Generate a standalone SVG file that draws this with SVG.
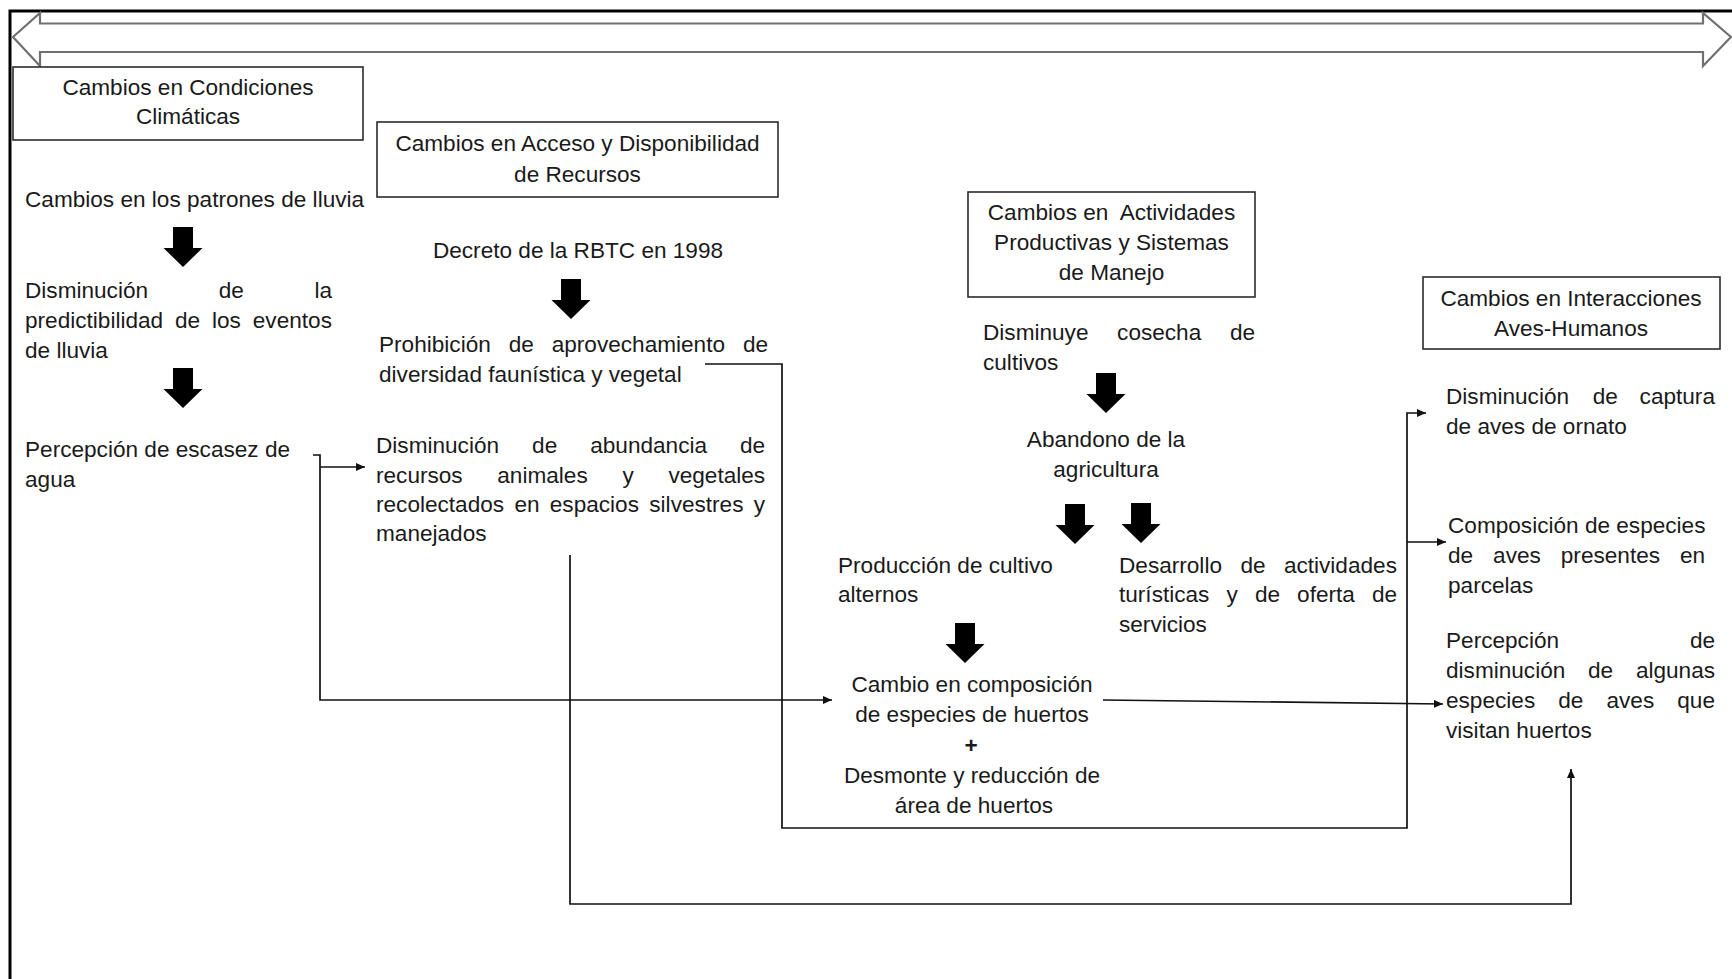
<svg xmlns="http://www.w3.org/2000/svg" xmlns:xlink="http://www.w3.org/1999/xlink" width="1732" height="979" viewBox="0 0 1732 979">
  <style>
    text { font-family: "Liberation Sans", Arial, sans-serif; font-size: 22.6px; fill: #1a1a1a; white-space: pre; }
    .c { text-anchor: middle; }
    .box { fill: #ffffff; stroke: #2b2b2b; stroke-width: 1.6; }
    .frame { fill: none; stroke: #000000; stroke-width: 3; }
    .timeline { fill: #ffffff; stroke: #707070; stroke-width: 2.2; stroke-linejoin: miter; }
    .link { fill: none; stroke: #111111; stroke-width: 1.7; }
    .block { fill: #000000; }
  </style>
  <defs>
    <!-- thick block arrow pointing down, origin at top centre of the shaft -->
    <path id="down" d="M-10,0 H10 V21 H19.5 L0,40 L-19.5,21 H-10 Z"/>
    <marker id="tip" markerUnits="userSpaceOnUse" markerWidth="9" markerHeight="8" refX="9" refY="4" orient="auto">
      <path d="M0,0 L9,4 L0,8 Z" fill="#111111"/>
    </marker>
  </defs>

  <rect width="1732" height="979" fill="#ffffff"/>

  <!-- outer frame: top and left edges -->
  <path class="frame" d="M10,979 V11 H1732"/>

  <!-- double-headed timeline arrow -->
  <polygon class="timeline" points="13,37 40,13 40,23.5 1703,23.5 1703,13 1731,37 1703,66 1703,52 40,52 40,66"/>

  <!-- category headers -->
  <g id="hdr-climaticas">
    <rect class="box" x="13" y="67" width="350" height="73"/>
    <text class="c" x="188" y="95">Cambios en Condiciones</text>
    <text class="c" x="188" y="124">Climáticas</text>
  </g>
  <g id="hdr-recursos">
    <rect class="box" x="377" y="122" width="401" height="75"/>
    <text class="c" x="577.5" y="151">Cambios en Acceso y Disponibilidad</text>
    <text class="c" x="577.5" y="182">de Recursos</text>
  </g>
  <g id="hdr-productivas">
    <rect class="box" x="968" y="192" width="287" height="105"/>
    <text class="c" x="1111.5" y="220">Cambios en  Actividades</text>
    <text class="c" x="1111.5" y="250">Productivas y Sistemas</text>
    <text class="c" x="1111.5" y="280">de Manejo</text>
  </g>
  <g id="hdr-aves">
    <rect class="box" x="1423" y="277" width="297" height="72"/>
    <text class="c" x="1571" y="306">Cambios en Interacciones</text>
    <text class="c" x="1571" y="336">Aves-Humanos</text>
  </g>

  <!-- climate column (justified lines set word by word) -->
  <g id="n-lluvia">
    <text x="25" y="207">Cambios en los patrones de lluvia</text>
  </g>
  <g id="n-predictibilidad">
    <text y="298"><tspan x="25">Disminución</tspan><tspan x="218.7">de</tspan><tspan x="314.4">la</tspan></text>
    <text y="328"><tspan x="25">predictibilidad</tspan><tspan x="175">de</tspan><tspan x="212">los</tspan><tspan x="252.8">eventos</tspan></text>
    <text x="25" y="358">de lluvia</text>
  </g>
  <g id="n-escasez">
    <text x="25" y="457">Percepción de escasez de</text>
    <text x="25" y="487">agua</text>
  </g>

  <!-- resources column -->
  <g id="n-decreto">
    <text class="c" x="578" y="258">Decreto de la RBTC en 1998</text>
  </g>
  <g id="n-prohibicion">
    <text y="352"><tspan x="379">Prohibición</tspan><tspan x="508.7">de</tspan><tspan x="551.7">aprovechamiento</tspan><tspan x="742.9">de</tspan></text>
    <text x="379" y="382">diversidad faunística y vegetal</text>
  </g>
  <g id="n-abundancia">
    <text y="453"><tspan x="376">Disminución</tspan><tspan x="532.1">de</tspan><tspan x="590.2">abundancia</tspan><tspan x="740">de</tspan></text>
    <text y="483"><tspan x="376">recursos</tspan><tspan x="497.3">animales</tspan><tspan x="622.4">y</tspan><tspan x="668.4">vegetales</tspan></text>
    <text y="512"><tspan x="376">recolectados</tspan><tspan x="514.4">en</tspan><tspan x="549.8">espacios</tspan><tspan x="649.3">silvestres</tspan><tspan x="753.7">y</tspan></text>
    <text x="376" y="541">manejados</text>
  </g>

  <!-- productive activities column -->
  <g id="n-cosecha">
    <text y="340"><tspan x="983">Disminuye</tspan><tspan x="1117.1">cosecha</tspan><tspan x="1229.9">de</tspan></text>
    <text x="983" y="370">cultivos</text>
  </g>
  <g id="n-abandono">
    <text class="c" x="1106" y="447">Abandono de la</text>
    <text class="c" x="1106" y="477">agricultura</text>
  </g>
  <g id="n-alternos">
    <text x="838" y="573">Producción de cultivo</text>
    <text x="838" y="602">alternos</text>
  </g>
  <g id="n-turismo">
    <text y="573"><tspan x="1119">Desarrollo</tspan><tspan x="1240.4">de</tspan><tspan x="1283.9">actividades</tspan></text>
    <text y="602"><tspan x="1119">turísticas</tspan><tspan x="1226.5">y</tspan><tspan x="1254.9">de</tspan><tspan x="1297.1">oferta</tspan><tspan x="1371.9">de</tspan></text>
    <text x="1119" y="632">servicios</text>
  </g>
  <g id="n-huertos">
    <text class="c" x="972" y="692">Cambio en composición</text>
    <text class="c" x="972" y="722">de especies de huertos</text>
    <text class="c" x="971" y="753" font-weight="bold">+</text>
    <text class="c" x="972" y="783">Desmonte y reducción de</text>
    <text class="c" x="974" y="813">área de huertos</text>
  </g>

  <!-- bird-human interaction column -->
  <g id="n-captura">
    <text y="404"><tspan x="1446">Disminución</tspan><tspan x="1592.8">de</tspan><tspan x="1639.6">captura</tspan></text>
    <text x="1446" y="434">de aves de ornato</text>
  </g>
  <g id="n-composicion">
    <text x="1448" y="533">Composición de especies</text>
    <text y="563"><tspan x="1448">de</tspan><tspan x="1493.1">aves</tspan><tspan x="1560.8">presentes</tspan><tspan x="1680">en</tspan></text>
    <text x="1448" y="593">parcelas</text>
  </g>
  <g id="n-percepcion-aves">
    <text y="648"><tspan x="1446">Percepción</tspan><tspan x="1689.9">de</tspan></text>
    <text y="678"><tspan x="1446">disminución</tspan><tspan x="1588">de</tspan><tspan x="1635.9">algunas</tspan></text>
    <text y="708"><tspan x="1446">especies</tspan><tspan x="1558.3">de</tspan><tspan x="1606.5">aves</tspan><tspan x="1677.3">que</tspan></text>
    <text x="1446" y="738">visitan huertos</text>
  </g>

  <!-- connectors -->
  <g id="connectors">
    <use xlink:href="#down" class="block" x="183" y="227"/>
    <use xlink:href="#down" class="block" x="183" y="368"/>
    <use xlink:href="#down" class="block" x="571" y="279"/>
    <use xlink:href="#down" class="block" x="1106" y="373"/>
    <use xlink:href="#down" class="block" x="1075" y="504"/>
    <use xlink:href="#down" class="block" x="1141" y="503"/>
    <use xlink:href="#down" class="block" x="965" y="623"/>

    <!-- water scarcity to resources and orchards -->
    <path class="link" d="M313,455 H320 V700 H832" marker-end="url(#tip)"/>
    <path class="link" d="M320,467 H365" marker-end="url(#tip)"/>

    <!-- harvesting ban loop -->
    <path class="link" d="M705,364 H782 V828 H1407 V413 H1426" marker-end="url(#tip)"/>
    <path class="link" d="M1407,542 H1446" marker-end="url(#tip)"/>

    <!-- orchard change to bird perception -->
    <path class="link" d="M1103,700 L1443,704" marker-end="url(#tip)"/>

    <!-- resource decline outer loop -->
    <path class="link" d="M570,555 V904 H1571 V769" marker-end="url(#tip)"/>
  </g>
</svg>
